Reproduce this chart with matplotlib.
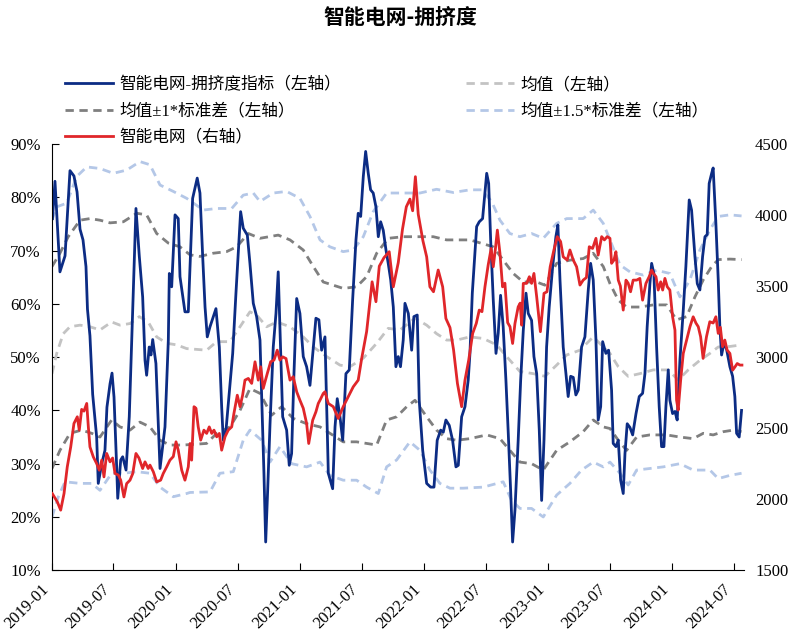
import pandas as pd
import matplotlib
matplotlib.use("Agg")
import matplotlib.pyplot as plt
import matplotlib.dates as mdates

plt.rcParams['font.family'] = ['Liberation Serif', 'Noto Sans CJK SC', 'DejaVu Sans']
plt.rcParams['axes.unicode_minus'] = False

# crowding index (left axis, %), time as decimal year
blue_t = [2019.004, 2019.024, 2019.064, 2019.105, 2019.145, 2019.177, 2019.202, 2019.226, 2019.250, 2019.274,
          2019.286, 2019.306, 2019.328, 2019.360, 2019.373, 2019.401, 2019.427, 2019.443, 2019.468, 2019.484,
          2019.500, 2019.522, 2019.530, 2019.554, 2019.570, 2019.597, 2019.623, 2019.651, 2019.677, 2019.704,
          2019.731, 2019.750, 2019.763, 2019.784, 2019.798, 2019.812, 2019.838, 2019.857, 2019.871, 2019.892,
          2019.911, 2019.938, 2019.946, 2019.965, 2019.992, 2020.018, 2020.032, 2020.072, 2020.099, 2020.134,
          2020.171, 2020.193, 2020.215, 2020.234, 2020.252, 2020.274, 2020.322, 2020.349, 2020.368, 2020.381,
          2020.403, 2020.429, 2020.457, 2020.483, 2020.502, 2020.521, 2020.542, 2020.575, 2020.596, 2020.623,
          2020.650, 2020.677, 2020.690, 2020.709, 2020.723, 2020.739, 2020.758, 2020.784, 2020.806, 2020.824,
          2020.844, 2020.860, 2020.892, 2020.913, 2020.932, 2020.951, 2020.973, 2020.999, 2021.026, 2021.053,
          2021.080, 2021.107, 2021.128, 2021.152, 2021.174, 2021.201, 2021.228, 2021.263, 2021.282, 2021.300,
          2021.322, 2021.344, 2021.370, 2021.397, 2021.424, 2021.451, 2021.469, 2021.489, 2021.510, 2021.529,
          2021.550, 2021.569, 2021.590, 2021.612, 2021.631, 2021.650, 2021.671, 2021.693, 2021.711, 2021.731,
          2021.752, 2021.773, 2021.792, 2021.810, 2021.832, 2021.846, 2021.873, 2021.900, 2021.918, 2021.945,
          2021.961, 2021.989, 2022.021, 2022.053, 2022.080, 2022.106, 2022.134, 2022.155, 2022.176, 2022.203,
          2022.230, 2022.257, 2022.276, 2022.303, 2022.330, 2022.356, 2022.370, 2022.389, 2022.424, 2022.445,
          2022.472, 2022.491, 2022.505, 2022.521, 2022.537, 2022.558, 2022.580, 2022.598, 2022.617, 2022.638,
          2022.660, 2022.679, 2022.698, 2022.714, 2022.733, 2022.759, 2022.779, 2022.800, 2022.822, 2022.840,
          2022.867, 2022.886, 2022.908, 2022.929, 2022.948, 2022.967, 2022.988, 2023.009, 2023.037, 2023.063,
          2023.079, 2023.096, 2023.122, 2023.144, 2023.162, 2023.182, 2023.203, 2023.224, 2023.243, 2023.270,
          2023.297, 2023.324, 2023.343, 2023.364, 2023.386, 2023.404, 2023.424, 2023.440, 2023.466, 2023.488,
          2023.512, 2023.525, 2023.547, 2023.566, 2023.585, 2023.606, 2023.620, 2023.638, 2023.660, 2023.682,
          2023.709, 2023.735, 2023.762, 2023.781, 2023.799, 2023.821, 2023.835, 2023.853, 2023.875, 2023.896,
          2023.915, 2023.934, 2023.950, 2023.969, 2023.982, 2024.004, 2024.023, 2024.041, 2024.063, 2024.090,
          2024.111, 2024.138, 2024.157, 2024.184, 2024.203, 2024.224, 2024.246, 2024.265, 2024.283, 2024.299,
          2024.319, 2024.331, 2024.353, 2024.372, 2024.385, 2024.399, 2024.418, 2024.439, 2024.466, 2024.488,
          2024.506, 2024.520, 2024.541, 2024.560]
blue_v = [76, 83, 66, 69, 85, 84, 81, 74, 72, 67,
          59, 54, 43, 35, 26.3, 30, 32.5, 40.6, 45, 47,
          42.5, 29, 23.5, 30.7, 31.3, 28.8, 38.8, 59.4, 77.9, 68.9,
          61.3, 49.4, 46.6, 51.9, 50.4, 53.3, 48.8, 37.5, 29.1, 33.2,
          36.9, 53.2, 65.7, 63.2, 76.7, 76, 65.1, 58.5, 58.5, 79.8,
          83.6, 80.8, 68.9, 59.4, 53.8, 55.7, 59.1, 51.9, 40.7, 34.4,
          36.3, 43.2, 50.7, 61.9, 69.5, 77.3, 74.2, 72.9, 67.6, 60.1,
          57.6, 53.2, 43.2, 28.2, 15.3, 25, 37.5, 51.9, 58.2, 66,
          50.7, 38.8, 36.3, 29.7, 31.9, 46.9, 61, 58.2, 50.1, 48.2,
          44.7, 51.9, 57.3, 57.0, 51.3, 53.8, 28.2, 25.3, 36.9, 42.2,
          38.8, 34.4, 46.9, 47.6, 60.7, 72, 77, 76.4, 83.9, 88.6,
          84.5, 81.4, 80.8, 78.2, 72.6, 75.4, 73.8, 70.1, 67.6, 64.5,
          59.4, 48.2, 50.1, 48.2, 53.2, 60.1, 58.2, 51.3, 57.6, 57.9,
          41.9, 32.5, 26.3, 25.6, 25.6, 34.4, 36.3, 35.9, 38.2, 37.2,
          34.4, 29.4, 29.7, 38.8, 40.7, 45.7, 50.7, 62, 74.5, 75.4,
          76, 80.8, 84.5, 82.6, 72, 60.7, 50.7, 54.5, 61.6, 55.7,
          45.7, 35.7, 25, 15.3, 21.3, 34.4, 45.7, 55, 62, 58.2,
          56.9, 50.1, 46.9, 36.3, 23.1, 34.4, 51.9, 59.4, 67, 72.6,
          74.8, 64.5, 51.9, 46.9, 42.6, 46.4, 46.2, 42.9, 43.8, 51.9,
          53.8, 62.6, 67.6, 64.5, 53.2, 38.2, 40.7, 52.9, 50.7, 51.3,
          43.8, 33.8, 33.2, 34.4, 26.9, 24.4, 31.9, 37.5, 36.8, 35.4,
          39.4, 42.6, 43.2, 46.9, 55.7, 63.8, 67.6, 65.7, 51.9, 40.7,
          33.2, 33.2, 40.7, 47.6, 41.9, 39.4, 39.8, 38.2, 49.4, 58.8,
          67, 79.5, 77.6, 68.9, 63.8, 62.6, 68.9, 72.6, 73, 82.6,
          84.5, 85.5, 75.1, 64.5, 55.7, 50.4, 52.6, 51.5, 48.2, 46.4,
          42.6, 35.7, 35, 40]

# sector index (right axis)
red_t = [2019.002, 2019.043, 2019.070, 2019.097, 2019.123, 2019.151, 2019.177, 2019.204, 2019.220, 2019.239,
         2019.258, 2019.280, 2019.293, 2019.306, 2019.333, 2019.360, 2019.381, 2019.401, 2019.419, 2019.441,
         2019.468, 2019.489, 2019.508, 2019.535, 2019.554, 2019.580, 2019.602, 2019.629, 2019.651, 2019.677,
         2019.701, 2019.731, 2019.750, 2019.776, 2019.790, 2019.817, 2019.844, 2019.876, 2019.897, 2019.925,
         2019.951, 2019.978, 2020.000, 2020.018, 2020.046, 2020.072, 2020.099, 2020.113, 2020.126, 2020.145,
         2020.161, 2020.179, 2020.199, 2020.225, 2020.247, 2020.268, 2020.288, 2020.306, 2020.328, 2020.349,
         2020.368, 2020.395, 2020.421, 2020.449, 2020.467, 2020.494, 2020.516, 2020.537, 2020.556, 2020.583,
         2020.610, 2020.637, 2020.663, 2020.683, 2020.703, 2020.736, 2020.763, 2020.790, 2020.816, 2020.838,
         2020.860, 2020.887, 2020.919, 2020.945, 2020.973, 2020.999, 2021.026, 2021.053, 2021.070, 2021.102,
         2021.128, 2021.147, 2021.161, 2021.187, 2021.201, 2021.228, 2021.268, 2021.308, 2021.348, 2021.389,
         2021.429, 2021.469, 2021.497, 2021.537, 2021.581, 2021.612, 2021.639, 2021.677, 2021.719, 2021.752,
         2021.792, 2021.826, 2021.857, 2021.886, 2021.908, 2021.930, 2021.953, 2021.991, 2022.021, 2022.047,
         2022.076, 2022.114, 2022.150, 2022.176, 2022.209, 2022.238, 2022.269, 2022.303, 2022.330, 2022.360,
         2022.392, 2022.421, 2022.445, 2022.467, 2022.491, 2022.517, 2022.541, 2022.558, 2022.575, 2022.591,
         2022.612, 2022.633, 2022.652, 2022.674, 2022.693, 2022.714, 2022.733, 2022.759, 2022.775, 2022.787,
         2022.800, 2022.827, 2022.849, 2022.867, 2022.886, 2022.908, 2022.938, 2022.967, 2022.991, 2023.017,
         2023.047, 2023.074, 2023.101, 2023.122, 2023.154, 2023.176, 2023.203, 2023.230, 2023.257, 2023.283,
         2023.309, 2023.332, 2023.359, 2023.386, 2023.404, 2023.432, 2023.454, 2023.477, 2023.499, 2023.512,
         2023.531, 2023.547, 2023.566, 2023.583, 2023.606, 2023.628, 2023.646, 2023.665, 2023.686, 2023.714,
         2023.740, 2023.762, 2023.789, 2023.815, 2023.835, 2023.848, 2023.870, 2023.888, 2023.908, 2023.924,
         2023.942, 2023.961, 2023.982, 2024.004, 2024.023, 2024.036, 2024.049, 2024.069, 2024.090, 2024.117,
         2024.144, 2024.170, 2024.192, 2024.211, 2024.230, 2024.250, 2024.277, 2024.304, 2024.331, 2024.353,
         2024.372, 2024.389, 2024.407, 2024.425, 2024.444, 2024.466, 2024.488, 2024.506, 2024.525, 2024.547,
         2024.563]
red_v = [2040, 1981, 1923, 2040, 2227, 2368, 2533, 2580, 2486, 2632,
         2620, 2674, 2509, 2368, 2298, 2251, 2204, 2275, 2157, 2322,
         2263, 2290, 2181, 2170, 2134, 2016, 2110, 2134, 2180, 2322,
         2290, 2216, 2263, 2216, 2240, 2193, 2122, 2134, 2181, 2228,
         2275, 2300, 2404, 2345, 2204, 2134, 2228, 2392, 2275, 2651,
         2640, 2509, 2416, 2486, 2463, 2509, 2463, 2486, 2439, 2463,
         2345, 2439, 2486, 2509, 2604, 2732, 2651, 2732, 2838, 2850,
         2815, 2967, 2838, 2932, 2780, 2885, 2967, 2979, 3049, 2979,
         3002, 2990, 2838, 2862, 2756, 2697, 2640, 2533, 2392, 2556,
         2615, 2674, 2697, 2744, 2756, 2674, 2651, 2568, 2651, 2721,
         2791, 2838, 2990, 3180, 3530, 3390, 3640, 3700, 3742, 3495,
         3665, 3900, 4058, 4112, 4030, 4270, 4006, 3818, 3706, 3495,
         3460, 3613, 3495, 3272, 3208, 3050, 2815, 2651, 2838, 2979,
         3167, 3237, 3331, 3320, 3495, 3648, 3765, 3636, 3760, 3894,
         3730, 3495, 3520, 3243, 3214, 3096, 3237, 3354, 3380, 3225,
         3519, 3519, 3566, 3519, 3589, 3425, 3179, 3449, 3460, 3636,
         3754, 3848, 3813, 3706, 3683, 3754, 3683, 3636, 3507, 3542,
         3560, 3777, 3765, 3836, 3718, 3848, 3825, 3848, 3836, 3660,
         3683, 3742, 3542, 3500, 3331, 3542, 3520, 3460, 3542, 3542,
         3554, 3401, 3519, 3566, 3613, 3590, 3566, 3472, 3530, 3472,
         3554, 3495, 3472, 3284, 3190, 2697, 2627, 2838, 3026, 3120,
         3214, 3284, 3240, 3214, 3143, 2991, 3143, 3249, 3240, 3284,
         3167, 3210, 3073, 3120, 3049, 3026, 2908, 2930, 2955, 2944,
         2944]

mean_t = [2019.0, 2019.038, 2019.091, 2019.145, 2019.226, 2019.306, 2019.387, 2019.481, 2019.548, 2019.629,
          2019.704, 2019.776, 2019.844, 2019.925, 2020.005, 2020.086, 2020.247, 2020.328, 2020.435, 2020.516,
          2020.596, 2020.650, 2020.731, 2020.812, 2020.919, 2021.026, 2021.107, 2021.215, 2021.322, 2021.402,
          2021.510, 2021.618, 2021.711, 2021.806, 2021.927, 2022.021, 2022.101, 2022.182, 2022.263, 2022.370,
          2022.477, 2022.585, 2022.666, 2022.773, 2022.880, 2022.975, 2023.069, 2023.150, 2023.257, 2023.364,
          2023.445, 2023.499, 2023.566, 2023.646, 2023.740, 2023.848, 2023.969, 2024.049, 2024.130, 2024.224,
          2024.305, 2024.372, 2024.466, 2024.560]
mean_v = [46.9, 50.7, 54.4, 55.7, 56, 55.7, 55.1, 56.6, 56, 56.3,
          57.6, 56.6, 53.8, 52.6, 52.3, 51.6, 51.3, 52.9, 52.9, 55.7,
          58.5, 57.9, 55.7, 56.6, 55.7, 53.8, 51.9, 50.1, 48.5, 48.2,
          49.8, 52.6, 55.4, 55.1, 57.3, 56, 54.4, 53.2, 53.2, 53.8,
          53.5, 52.3, 50.1, 47.3, 46.9, 46.4, 48.5, 50.4, 51.3, 53.8,
          51.9, 50.7, 48.2, 46.4, 46.9, 47.6, 47.6, 45.7, 47.6, 49.4,
          50.7, 51.9, 52, 52.3]

up1_t = [2019.0, 2019.064, 2019.131, 2019.226, 2019.306, 2019.387, 2019.468, 2019.575, 2019.683, 2019.763,
         2019.844, 2019.938, 2020.032, 2020.113, 2020.193, 2020.300, 2020.408, 2020.489, 2020.583, 2020.677,
         2020.824, 2020.919, 2021.026, 2021.107, 2021.187, 2021.241, 2021.348, 2021.456, 2021.537, 2021.618,
         2021.711, 2021.832, 2021.967, 2022.074, 2022.182, 2022.263, 2022.370, 2022.558, 2022.638, 2022.719,
         2022.800, 2022.908, 2022.975, 2023.069, 2023.176, 2023.283, 2023.364, 2023.445, 2023.499, 2023.566,
         2023.633, 2023.740, 2023.848, 2023.956, 2024.036, 2024.117, 2024.184, 2024.251, 2024.319, 2024.372,
         2024.466, 2024.560]
up1_v = [67, 69.5, 72.6, 75.7, 76, 75.7, 75.2, 75.4, 77, 76.7,
         73.2, 71.4, 70.7, 69.2, 68.9, 69.5, 69.8, 70.7, 73.2, 72.3,
         72.9, 72, 70.1, 67, 64.1, 63.7, 62.9, 63.2, 65.1, 69.5,
         72.3, 72.6, 72.6, 72.6, 72, 72, 72, 70.7, 68.2, 65.7,
         64.1, 64.1, 63.5, 67.6, 68.2, 68.5, 69.5, 67, 63.8, 60.7,
         59.4, 59.4, 59.8, 59.8, 57, 57.6, 61.3, 64.5, 67, 68.3,
         68.4, 68.3]

lo1_t = [2019.0, 2019.064, 2019.145, 2019.239, 2019.320, 2019.387, 2019.481, 2019.548, 2019.629, 2019.709,
         2019.790, 2019.871, 2019.951, 2020.059, 2020.247, 2020.328, 2020.435, 2020.516, 2020.596, 2020.677,
         2020.771, 2020.852, 2020.945, 2021.053, 2021.161, 2021.241, 2021.348, 2021.456, 2021.618, 2021.698,
         2021.779, 2021.860, 2021.927, 2022.021, 2022.101, 2022.182, 2022.263, 2022.370, 2022.505, 2022.612,
         2022.692, 2022.773, 2022.867, 2022.961, 2023.069, 2023.176, 2023.283, 2023.364, 2023.445, 2023.499,
         2023.566, 2023.633, 2023.714, 2023.821, 2023.956, 2024.063, 2024.170, 2024.251, 2024.331, 2024.412,
         2024.493, 2024.560]
lo1_v = [29.1, 32.5, 35.7, 36.3, 35.7, 35, 38.2, 36.9, 36.3, 37.8,
         36.9, 34.4, 33.5, 33.5, 33.8, 35.7, 36.9, 40, 44.1, 43.2,
         39.1, 40.7, 38.5, 37.5, 36.9, 35.7, 34.1, 34.1, 33.5, 38.2,
         38.8, 40.7, 41.9, 38.8, 36.3, 34.7, 34.4, 34.7, 35.4, 34.7,
         32.5, 30.3, 30, 28.8, 32.5, 34.1, 36, 38.2, 36.9, 36.6,
         34.4, 32.5, 35, 35.4, 35.4, 35, 34.7, 35.7, 35.4, 36,
         36.3, 36]

up15_t = [2019.0, 2019.038, 2019.119, 2019.199, 2019.280, 2019.387, 2019.494, 2019.602, 2019.709, 2019.790,
          2019.871, 2019.978, 2020.086, 2020.220, 2020.328, 2020.449, 2020.542, 2020.623, 2020.677, 2020.784,
          2020.892, 2020.999, 2021.080, 2021.161, 2021.241, 2021.348, 2021.429, 2021.510, 2021.590, 2021.698,
          2021.832, 2021.967, 2022.101, 2022.235, 2022.370, 2022.464, 2022.545, 2022.612, 2022.692, 2022.773,
          2022.867, 2022.961, 2023.069, 2023.150, 2023.283, 2023.364, 2023.445, 2023.499, 2023.580, 2023.660,
          2023.768, 2023.875, 2023.982, 2024.063, 2024.144, 2024.224, 2024.305, 2024.372, 2024.466, 2024.560]
up15_v = [75.7, 78.2, 78.9, 83.9, 85.7, 85.4, 84.5, 85.1, 86.7, 86.1,
          82.3, 81.1, 79.8, 77.6, 77.9, 77.9, 80.4, 80.8, 79.2, 80.8,
          81.1, 79.8, 76.4, 72, 70.7, 69.8, 70.1, 72.6, 77.3, 80.8,
          80.8, 80.8, 81.5, 80.9, 81.4, 81.4, 79.2, 75.7, 73.2, 72.6,
          73.2, 72.3, 75.1, 76, 76, 77.6, 75.1, 72, 67.3, 66,
          65.4, 66.3, 65.7, 61.3, 64.5, 70.1, 73.9, 76.4, 76.7, 76.5]

lo15_t = [2019.0, 2019.051, 2019.105, 2019.226, 2019.320, 2019.387, 2019.481, 2019.575, 2019.683, 2019.790,
          2019.871, 2019.978, 2020.086, 2020.113, 2020.274, 2020.354, 2020.462, 2020.542, 2020.596, 2020.690,
          2020.758, 2020.838, 2020.932, 2021.053, 2021.161, 2021.241, 2021.348, 2021.456, 2021.537, 2021.631,
          2021.698, 2021.779, 2021.886, 2021.967, 2022.047, 2022.128, 2022.209, 2022.316, 2022.477, 2022.638,
          2022.706, 2022.773, 2022.867, 2022.961, 2023.069, 2023.176, 2023.270, 2023.364, 2023.445, 2023.499,
          2023.580, 2023.646, 2023.714, 2023.821, 2023.929, 2024.063, 2024.170, 2024.305, 2024.372, 2024.466,
          2024.560]
lo15_v = [20, 23.8, 26.6, 26.3, 26.3, 25, 28.2, 28.2, 28.5, 28.2,
          25.6, 23.8, 24.4, 24.6, 24.7, 28.2, 28.5, 34.4, 36.3, 34.4,
          30.3, 33.2, 30, 29.4, 30.3, 27.8, 26.9, 26.9, 25.6, 24.4,
          29.4, 30.7, 34.1, 32.5, 28.8, 26.3, 25.4, 25.4, 25.6, 26.6,
          23.1, 21.6, 21.6, 20, 24.1, 26.3, 28.8, 30.3, 29.4, 30.3,
          28.2, 26, 28.8, 29.1, 29.4, 30, 28.8, 28.8, 27.2, 27.8,
          28.2]


def to_dates(t):
    base = pd.Timestamp('2019-01-01')
    return [base + pd.Timedelta(days=(x - 2019) * 365.25) for x in t]


fig = plt.figure(figsize=(8, 6.4), dpi=100)
ax = fig.add_axes([0.065, 0.109, 0.865, 0.666])
ax2 = ax.twinx()

dash = (3, 2)
l_mean, = ax.plot(to_dates(mean_t), mean_v, color='#c3c3c3', lw=2, dashes=dash)
l_up1, = ax.plot(to_dates(up1_t), up1_v, color='#7f7f7f', lw=2, dashes=dash)
ax.plot(to_dates(lo1_t), lo1_v, color='#7f7f7f', lw=2, dashes=dash)
l_up15, = ax.plot(to_dates(up15_t), up15_v, color='#b4c7e7', lw=2, dashes=dash)
ax.plot(to_dates(lo15_t), lo15_v, color='#b4c7e7', lw=2, dashes=dash)
l_blue, = ax.plot(to_dates(blue_t), blue_v, color='#0c2c84', lw=2)
l_red, = ax2.plot(to_dates(red_t), red_v, color='#e0262a', lw=2)

ax.set_ylim(10, 90)
ax.set_yticks(range(10, 91, 10))
ax.set_yticklabels([f'{v}%' for v in range(10, 91, 10)])
ax2.set_ylim(1500, 4500)
ax2.set_yticks(range(1500, 4501, 500))

ax.set_xlim(pd.Timestamp('2019-01-01'), pd.Timestamp('2024-07-31'))
xt = pd.date_range('2019-01-01', '2024-07-01', freq='6MS')
ax.set_xticks(xt)
ax.set_xticklabels([d.strftime('%Y-%m') for d in xt], rotation=45, ha='right')

for a in (ax, ax2):
    a.spines['top'].set_visible(False)
    a.spines['right'].set_visible(False)
ax2.spines['left'].set_visible(False)
ax2.spines['bottom'].set_visible(False)
ax.tick_params(axis='both', direction='in', length=5, labelsize=12, pad=8)
ax2.tick_params(axis='y', length=0, labelsize=12, pad=8)

fig.text(0.5, 0.99, '智能电网-拥挤度', ha='center', va='top', fontsize=15, fontweight='bold',
         family=['Noto Sans CJK SC'])

handles = [l_blue, l_up1, l_red, l_mean, l_up15]
labels = ['智能电网-拥挤度指标（左轴）', '均值±1*标准差（左轴）', '智能电网（右轴）',
          '均值（左轴）', '均值±1.5*标准差（左轴）']
fig.legend(handles, labels, loc='upper left', bbox_to_anchor=(0.073, 0.89), ncol=2, frameon=False,
           fontsize=12, handlelength=2.9, handletextpad=0.35, columnspacing=7.5, labelspacing=0.62,
           borderaxespad=0)

fig.savefig('out.png', dpi=100)
